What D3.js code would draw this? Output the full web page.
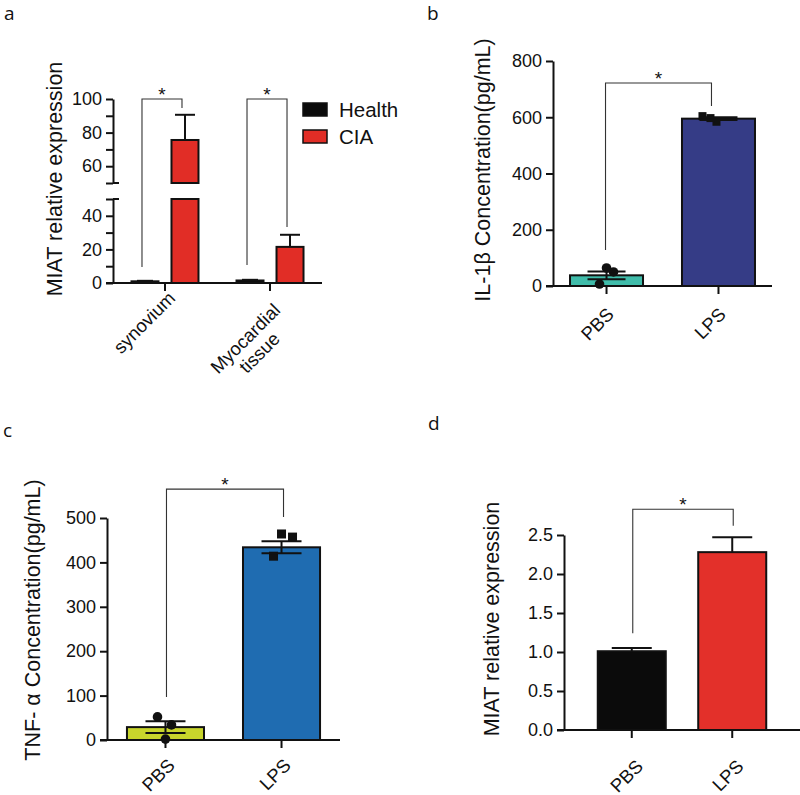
<!DOCTYPE html>
<html><head><meta charset="utf-8">
<script src="https://cdn.jsdelivr.net/npm/d3@7"></script>
<style>
body{margin:0;background:#fff}
svg{display:block}
text{font-family:"Liberation Sans",Arial,sans-serif;fill:#111}
</style>
</head><body>
<svg id="chart" width="800" height="795"></svg>
<script>
// ---------------- DATA ----------------
// Panel a
const aGroups = ["synovium", "Myocardial\ntissue"];
const aSeries = ["Health", "CIA"];
const aHealth = [1.0, 1.5];
const aHealthErr = [0.3, 0.4];
const aCIA = [75.6, 21.5];
const aCIAErr = [15.0, 7.2];
const aLowerTicks = [0, 10, 20, 30, 40, 50];
const aUpperTicks = [50, 60, 70, 80, 90, 100];
const aLabeledTicks = [0, 20, 40, 60, 80, 100];
const aBrackets = [[9.5, 94.6, 100], [10.7, 33.4, 100]]; // [left end, right end, top]

// Panel b
const bCats = ["PBS", "LPS"];
const bMeans = [38, 595];
const bSem = [14, 5];
const bPointsPBS = [64, 50, 7];
const bPointsLPS = [604, 584, 597];
const bTicks = [0, 200, 400, 600, 800];
const bBracket = [128, 640, 722];

// Panel c
const cCats = ["PBS", "LPS"];
const cMeans = [29, 434];
const cSem = [13.5, 13.5];
const cPointsPBS = [52, 34, 2];
const cPointsLPS = [464, 457, 414];
const cTicks = [0, 100, 200, 300, 400, 500];
const cBracket = [97, 502, 565];

// Panel d
const dCats = ["PBS", "LPS"];
const dMeans = [1.01, 2.28];
const dSem = [0.04, 0.19];
const dTicks = [0, 0.5, 1.0, 1.5, 2.0, 2.5];
const dBracket = [1.24, 2.62, 2.83];

// ---------------- STYLE ----------------
const INK = "#111";
const colA = {Health: "#0b0b0b", CIA: "#e12d26"};
const colB = ["#40bcaa", "#353c86"];
const colC = ["#c8d52c", "#1f6cb1"];
const colD = ["#0b0b0b", "#e3302a"];
const TICKFS = 18, LABFS = 21.5;

const svg = d3.select("#chart");

function styleAxis(g) {
  g.selectAll("path.domain").attr("stroke", INK).attr("stroke-width", 2);
  g.selectAll(".tick line").attr("stroke", INK).attr("stroke-width", 2);
  g.selectAll(".tick text").attr("font-size", TICKFS).attr("fill", INK)
    .attr("font-family", '"Liberation Sans",Arial,sans-serif');
}

function yLabel(text, x, y) {
  svg.append("text").attr("transform", `translate(${x},${y}) rotate(-90)`)
    .attr("text-anchor", "middle").attr("font-size", LABFS).text(text);
}

function panelLetter(t, x, y) {
  svg.append("text").attr("x", x).attr("y", y).attr("font-size", 19)
    .style("font-family", '"Open Sans",sans-serif')
    .attr("fill", "#222").text(t);
}

function rotLabel(lines, px, py, fs, lh) {
  const g = svg.append("g").attr("transform", `translate(${px},${py}) rotate(-45)`);
  const ts = lines.map((s, i) => g.append("text").attr("text-anchor", "middle")
    .attr("font-size", fs).attr("y", fs * 0.72 + i * lh).text(s));
  const W = d3.max(ts, t => t.node().getComputedTextLength());
  ts.forEach(t => t.attr("x", -W / 2));
}

function bracket(xl, xr, yl, yr, yt) {
  svg.append("path")
    .attr("d", `M${xl},${yl}V${yt}H${xr}V${yr}`)
    .attr("fill", "none").attr("stroke", "#333").attr("stroke-width", 1.1);
  svg.append("text").attr("x", (xl + xr) / 2).attr("y", yt + 2)
    .attr("text-anchor", "middle").attr("font-size", 19).text("*");
}

function errBar(cx, y0, y1, half, both, y2) {
  svg.append("line").attr("x1", cx).attr("x2", cx).attr("y1", both ? y2 : y0).attr("y2", y1)
    .attr("stroke", INK).attr("stroke-width", 2);
  svg.append("line").attr("x1", cx - half).attr("x2", cx + half).attr("y1", y1).attr("y2", y1)
    .attr("stroke", INK).attr("stroke-width", 2);
  if (both) svg.append("line").attr("x1", cx - half).attr("x2", cx + half).attr("y1", y2).attr("y2", y2)
    .attr("stroke", INK).attr("stroke-width", 2);
}

// ---------------- PANEL A ----------------
(function () {
  const yLow = d3.scaleLinear().domain([0, 50]).range([283, 199]);
  const yUp = d3.scaleLinear().domain([50, 100]).range([183, 99]);
  const x0 = d3.scaleBand().domain(aGroups).range([113, 322]).paddingInner(0.362).paddingOuter(0.176);
  const x1 = d3.scaleBand().domain(aSeries).range([0, x0.bandwidth()]).paddingInner(0.325).paddingOuter(0);
  const fmt = d => aLabeledTicks.includes(d) ? String(d) : "";

  const gl = svg.append("g").attr("transform", "translate(113,0)")
    .call(d3.axisLeft(yLow).tickValues(aLowerTicks).tickFormat(fmt).tickSize(7).tickSizeOuter(0).tickPadding(4));
  styleAxis(gl);
  const gu = svg.append("g").attr("transform", "translate(113,0)")
    .call(d3.axisLeft(yUp).tickValues(aUpperTicks).tickFormat(fmt).tickSize(7).tickSizeOuter(0).tickPadding(4));
  styleAxis(gu);
  // break caps extend to the right
  [yLow(50), yUp(50)].forEach(y => svg.append("line").attr("x1", 113).attr("x2", 119)
    .attr("y1", y).attr("y2", y).attr("stroke", INK).attr("stroke-width", 2));

  // bars
  aGroups.forEach((grp, i) => {
    const gx = x0(grp);
    // Health
    const hx = gx + x1("Health"), bw = x1.bandwidth();
    svg.append("rect").attr("x", hx).attr("y", yLow(aHealth[i])).attr("width", bw)
      .attr("height", yLow(0) - yLow(aHealth[i])).attr("fill", colA.Health).attr("stroke", INK).attr("stroke-width", 2);
    errBar(hx + bw / 2, yLow(aHealth[i]), yLow(aHealth[i] + aHealthErr[i]), 8, false);
    // CIA
    const cx = gx + x1("CIA");
    const v = aCIA[i], e = aCIA[i] + aCIAErr[i];
    const ys = val => val <= 50 ? yLow(val) : yUp(val);
    if (v > 50) {
      svg.append("line").attr("x1", cx + bw / 2).attr("x2", cx + bw / 2).attr("y1", yUp(v)).attr("y2", ys(e))
        .attr("stroke", INK).attr("stroke-width", 2);
      svg.append("rect").attr("x", cx).attr("y", yLow(50)).attr("width", bw).attr("height", yLow(0) - yLow(50))
        .attr("fill", colA.CIA).attr("stroke", INK).attr("stroke-width", 2);
      svg.append("rect").attr("x", cx).attr("y", yUp(v)).attr("width", bw).attr("height", yUp(50) - yUp(v))
        .attr("fill", colA.CIA).attr("stroke", INK).attr("stroke-width", 2);
      // hide strokes across the break
      svg.append("rect").attr("x", cx - 2).attr("y", yUp(50) + 1).attr("width", bw + 4).attr("height", yLow(50) - yUp(50) - 2).attr("fill", "#fff");
      svg.append("line").attr("x1", cx + bw / 2 - 10).attr("x2", cx + bw / 2 + 10).attr("y1", ys(e)).attr("y2", ys(e))
        .attr("stroke", INK).attr("stroke-width", 2);
    } else {
      svg.append("rect").attr("x", cx).attr("y", yLow(v)).attr("width", bw).attr("height", yLow(0) - yLow(v))
        .attr("fill", colA.CIA).attr("stroke", INK).attr("stroke-width", 2);
      errBar(cx + bw / 2, yLow(v), yLow(e), 10, false);
    }
    // bracket
    const br = aBrackets[i];
    bracket(hx + bw / 2 - 3, cx + bw / 2 - 3, ys(br[0]), ys(br[1]), ys(br[2]));
  });

  // x axis
  const gx = svg.append("g").attr("transform", "translate(0,283)")
    .call(d3.axisBottom(x0).tickSize(8).tickSizeOuter(0).tickFormat(""));
  styleAxis(gx);
  gx.select("path.domain").attr("d", "M106,0H322");

  aGroups.forEach(grp => {
    const c = x0(grp) + x0.bandwidth() / 2;
    const lines = grp.split("\n");
    rotLabel(lines, c + 2, lines.length > 1 ? 302 : 290, 18.5, 20);
  });

  yLabel("MIAT relative expression", 62, 179);

  // legend
  aSeries.forEach((s, i) => {
    svg.append("rect").attr("x", 303).attr("y", 103 + i * 27).attr("width", 24).attr("height", 13)
      .attr("fill", colA[s]).attr("stroke", INK).attr("stroke-width", 1.5);
    svg.append("text").attr("x", 339).attr("y", 117 + i * 27).attr("font-size", 20.5).text(s);
  });

  panelLetter("a", 4, 20);
})();

// ---------------- generic PBS/LPS panels ----------------
function simplePanel(o) {
  const y = d3.scaleLinear().domain(o.ydom).range(o.yrange);
  const x = d3.scaleBand().domain(o.cats).range(o.xrange).paddingInner(o.pi).paddingOuter(o.po);
  const bw = x.bandwidth();
  const gy = svg.append("g").attr("transform", `translate(${o.xrange[0]},0)`)
    .call(d3.axisLeft(y).tickValues(o.ticks).tickFormat(o.fmt).tickSize(7).tickSizeOuter(0).tickPadding(4));
  styleAxis(gy);

  o.cats.forEach((c, i) => {
    const bx = x(c), m = o.means[i];
    const cx = bx + bw / 2;
    svg.append("rect").attr("x", bx).attr("y", y(m)).attr("width", bw).attr("height", y(0) - y(m))
      .attr("fill", o.colors[i]).attr("stroke", INK).attr("stroke-width", 2);
    if (!o.both) errBar(cx, y(m), y(m + o.sem[i]), o.cap, false);
  });

  // points
  if (o.points) {
    o.points.forEach((pts, i) => {
      const cx = x(o.cats[i]) + bw / 2;
      pts.forEach((v, j) => {
        const px = cx + o.jitter[i][j];
        if (o.shapes[i] === "circle") {
          svg.append("circle").attr("cx", px).attr("cy", y(v)).attr("r", o.r).attr("fill", INK);
        } else {
          svg.append("rect").attr("x", px - o.sq / 2).attr("y", y(v) - o.sq / 2).attr("width", o.sq).attr("height", o.sq).attr("fill", INK);
        }
      });
    });
  }
  if (o.both) {
    o.cats.forEach((c, i) => {
      const cx = x(c) + bw / 2, m = o.means[i];
      errBar(cx, y(m), y(m + o.sem[i]), o.cap, true, y(m - o.sem[i]));
    });
  }

  const gx = svg.append("g").attr("transform", `translate(0,${o.yrange[0]})`)
    .call(d3.axisBottom(x).tickSize(8).tickSizeOuter(0).tickFormat(""));
  styleAxis(gx);
  gx.select("path.domain").attr("d", `M${o.xrange[0] - 7},0H${o.xend}`);

  o.cats.forEach(c => {
    const cx = x(c) + bw / 2;
    rotLabel([c], cx + o.lab[0], o.yrange[0] + o.lab[1], 18.5, 20);
  });

  const xl = x(o.cats[0]) + bw / 2 + o.bOff[0], xr = x(o.cats[1]) + bw / 2 + o.bOff[1];
  bracket(xl, xr, y(o.bracket[0]), y(o.bracket[1]), y(o.bracket[2]));

  yLabel(o.label, o.labX, o.labY);
}

simplePanel({
  ydom: [0, 800], yrange: [286, 61], xrange: [553, 772], xend: 772, cats: bCats, pi: 0.348, po: 0.152,
  ticks: bTicks, fmt: d3.format("d"), means: bMeans, sem: bSem, colors: colB, both: true, cap: 19,
  points: [bPointsPBS, bPointsLPS], shapes: ["circle", "square"], jitter: [[0, 7, -7], [-16, -2, -8]], r: 4.8, sq: 8,
  lab: [-1, 20], bracket: bBracket, bOff: [-1, -7], label: "IL-1β Concentration(pg/mL)", labX: 490, labY: 170
});
panelLetter("b", 427, 20);

simplePanel({
  ydom: [0, 500], yrange: [740, 518], xrange: [107, 340], xend: 340, cats: cCats, pi: 0.336, po: 0.172,
  ticks: cTicks, fmt: d3.format("d"), means: cMeans, sem: cSem, colors: colC, both: true, cap: 20,
  points: [cPointsPBS, cPointsLPS], shapes: ["circle", "square"], jitter: [[-8, 6, 0], [0, 11, -8]], r: 4.8, sq: 9,
  lab: [1, 17], bracket: cBracket, bOff: [1, 2], label: "TNF- α Concentration(pg/mL)", labX: 40, labY: 620
});
panelLetter("c", 3, 437);

simplePanel({
  ydom: [0, 2.5], yrange: [730, 535], xrange: [564, 800], xend: 800, cats: dCats, pi: 0.323, po: 0.336,
  ticks: dTicks, fmt: d3.format(".1f"), means: dMeans, sem: dSem, colors: colD, both: false, cap: 20,
  points: null, lab: [3, 28], bracket: dBracket, bOff: [1, 1], label: "MIAT relative expression", labX: 499, labY: 619
});
panelLetter("d", 428, 430);
</script>
</body></html>
